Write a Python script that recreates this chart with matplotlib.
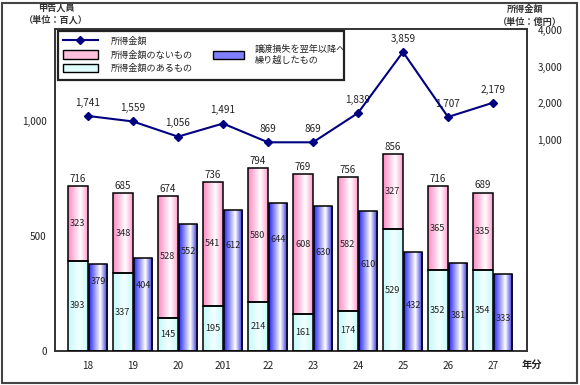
import numpy as np
import matplotlib
matplotlib.use("Agg")
import matplotlib.pyplot as plt
from matplotlib.colors import LinearSegmentedColormap
from matplotlib.patches import Rectangle, Patch
from matplotlib.lines import Line2D

plt.rcParams['font.family'] = ['Noto Sans CJK JP', 'DejaVu Sans']

# ---------------- data ----------------
years = ['18', '19', '20', '201', '22', '23', '24', '25', '26', '27']
with_income = [393, 337, 145, 195, 214, 161, 174, 529, 352, 354]      # 所得金額のあるもの
without_income = [323, 348, 528, 541, 580, 608, 582, 327, 365, 335]   # 所得金額のないもの
totals = [716, 685, 674, 736, 794, 769, 756, 856, 716, 689]
carried_loss = [379, 404, 552, 612, 644, 630, 610, 432, 381, 333]     # 譲渡損失を翌年以降へ繰り越したもの
income_amount = [1741, 1559, 1056, 1491, 869, 869, 1839, 3859, 1707, 2179]  # 所得金額 (億円)
left_ticks = [0, 500, 1000]
right_ticks = [1000, 2000, 3000, 4000]

# label placement inside the blue bars (fraction of bar height), layout only
blue_label_frac = [0.80, 0.70, 0.78, 0.75, 0.75, 0.68, 0.62, 0.46, 0.40, 0.42]

# ---------------- figure ----------------
W, H = 580, 385
fig = plt.figure(figsize=(W / 100, H / 100), dpi=100)
ax_l, ax_r, ax_b, ax_t = 55, 527, 351, 29
ax = fig.add_axes([ax_l / W, 1 - ax_b / H, (ax_r - ax_l) / W, (ax_b - ax_t) / H])
ax2 = ax.twinx()
ax3 = ax.twinx()

x = np.arange(len(years))
bw1, bw2, off = 0.43, 0.41, 0.225

pink = '#ff88c2'
blue = '#2a2aff'
cm_pink = LinearSegmentedColormap.from_list('p', [(0, pink), (0.62, '#ffffff'), (1, '#ff9ccc')])
cm_cyan = LinearSegmentedColormap.from_list('c', [(0, '#c2fafa'), (0.55, '#f4ffff'), (1, '#c6fbfb')])
cm_blue = LinearSegmentedColormap.from_list('b', [(0, blue), (0.6, '#ffffff'), (1, '#2020e0')])
grad = np.linspace(0, 1, 256).reshape(1, -1)

def grad_bars(bars, cmap):
    for b in bars:
        x0, y0 = b.get_x(), b.get_y()
        w, h = b.get_width(), b.get_height()
        im = ax.imshow(grad, extent=[x0, x0 + w, y0, y0 + h], aspect='auto',
                       cmap=cmap, zorder=2, interpolation='bilinear')
        im.set_clip_path(b)

b_cyan = ax.bar(x - off, with_income, bw1, facecolor='none', edgecolor='black', lw=1.1, zorder=3)
b_pink = ax.bar(x - off, without_income, bw1, bottom=with_income, facecolor='none',
                edgecolor='black', lw=1.1, zorder=3)
b_blue = ax.bar(x + off, carried_loss, bw2, facecolor='none', edgecolor='black', lw=1.1, zorder=3)
grad_bars(b_cyan, cm_cyan)
grad_bars(b_pink, cm_pink)
grad_bars(b_blue, cm_blue)

lab_fs = 6.6
for i in range(len(years)):
    ax.text(x[i] - off, with_income[i] / 2, f'{with_income[i]}', ha='center', va='center',
            fontsize=lab_fs, color='#222222', zorder=4)
    ax.text(x[i] - off, with_income[i] + without_income[i] / 2, f'{without_income[i]}',
            ha='center', va='center', fontsize=lab_fs, color='#222222', zorder=4)
    ax.annotate(f'{totals[i]}', (x[i] - off, with_income[i] + without_income[i]),
                xytext=(0, 1.5), textcoords='offset points', ha='center', va='bottom',
                fontsize=lab_fs + 0.4, color='#222222', zorder=4)
    ax.text(x[i] + off, carried_loss[i] * blue_label_frac[i], f'{carried_loss[i]}',
            ha='center', va='center', fontsize=lab_fs, color='#222222', zorder=4)

ax.set_xlim(-0.733, 9.756)
ax.set_ylim(0, 1400)
ax.set_yticks(left_ticks)
ax.set_yticklabels([f'{v:,}' for v in left_ticks])
ax.set_xticks(x)
ax.set_xticklabels(years)
ax.tick_params(axis='y', length=0, pad=6, labelsize=7.2, labelcolor='#222222')
ax.tick_params(axis='x', length=0, pad=7, labelsize=7.2, labelcolor='#222222')
for s in ax.spines.values():
    s.set_linewidth(1.4)
    s.set_color('#333333')

# line on secondary scale
ax2.plot(x, income_amount, color='#000080', lw=1.5, marker='D', ms=4.2, zorder=5)
for i, v in enumerate(income_amount):
    ax2.annotate(f'{v:,}', (x[i], v), xytext=(0, 9.5), textcoords='offset points',
                 ha='center', va='center', fontsize=7.2, color='#222222')
ax2.set_ylim(-6040, 4620)
ax2.set_yticks([])
for s in ax2.spines.values():
    s.set_visible(False)

# right-hand tick labels
ax3.set_ylim(-4754, 4027)
ax3.set_yticks(right_ticks)
ax3.set_yticklabels([f'{v:,}' for v in right_ticks])
ax3.tick_params(axis='y', length=0, pad=7.5, labelsize=7.2, labelcolor='#222222')
for s in ax3.spines.values():
    s.set_visible(False)

# legend box
lx0, lx1, ly0, ly1 = 58, 344, 31, 80
def axfrac(px, py):
    return ((px - ax_l) / (ax_r - ax_l), (ax_b - py) / (ax_b - ax_t))
fx0, fy1 = axfrac(lx0, ly0)
fx1, fy0 = axfrac(lx1, ly1)
ax.add_patch(Rectangle((fx0, fy0), fx1 - fx0, fy1 - fy0, transform=ax.transAxes,
                       facecolor='white', edgecolor='#222222', lw=1.6, zorder=6))

h_line = Line2D([], [], color='#000080', lw=1.5, marker='D', ms=4.2)
h_pink = Patch(facecolor='#ffc0de', edgecolor='black', lw=1.0)
h_cyan = Patch(facecolor='#dffdfd', edgecolor='black', lw=1.0)
h_blue = Patch(facecolor='#8080ff', edgecolor='black', lw=1.0)

leg1 = ax.legend([h_line, h_pink, h_cyan], ['所得金額', '所得金額のないもの', '所得金額のあるもの'],
                 loc='upper left', bbox_to_anchor=axfrac(61, 35), frameon=False,
                 fontsize=6.6, handlelength=3.8, handleheight=1.0, handletextpad=1.4,
                 labelspacing=0.47, borderaxespad=0, borderpad=0.2)
leg1.set_zorder(7)
for t in leg1.get_texts():
    t.set_color('#222222')
ax.add_artist(leg1)
leg2 = ax.legend([h_blue], ['譲渡損失を翌年以降へ\n繰り越したもの'],
                 loc='center left', bbox_to_anchor=axfrac(211, 55), frameon=False,
                 fontsize=6.6, handlelength=3.4, handleheight=1.0, handletextpad=1.2,
                 borderaxespad=0, borderpad=0.2)
leg2.set_zorder(7)
for t in leg2.get_texts():
    t.set_color('#222222')
    t.set_linespacing(1.2)

# axis titles
fig.text(56 / W, 1 - 8 / H, '申告人員', ha='center', va='center', fontsize=6.6,
         weight='bold', color='#333333')
fig.text(56 / W, 1 - 20 / H, '（単位：百人）', ha='center', va='center', fontsize=6.6,
         weight='bold', color='#333333')
fig.text(525 / W, 1 - 9 / H, '所得金額', ha='center', va='center', fontsize=6.6,
         weight='bold', color='#333333')
fig.text(530 / W, 1 - 22 / H, '（単位：億円）', ha='center', va='center', fontsize=6.6,
         weight='bold', color='#333333')
fig.text(532 / W, 1 - 365 / H, '年分', ha='center', va='center', fontsize=7.4,
         weight='bold', color='#222222')

# outer frame
fig.patches.append(Rectangle((2 / W, 2 / H), 575 / W, 380 / H, transform=fig.transFigure,
                             fill=False, edgecolor='#444444', lw=1.5))

fig.savefig('out.png', dpi=100)
